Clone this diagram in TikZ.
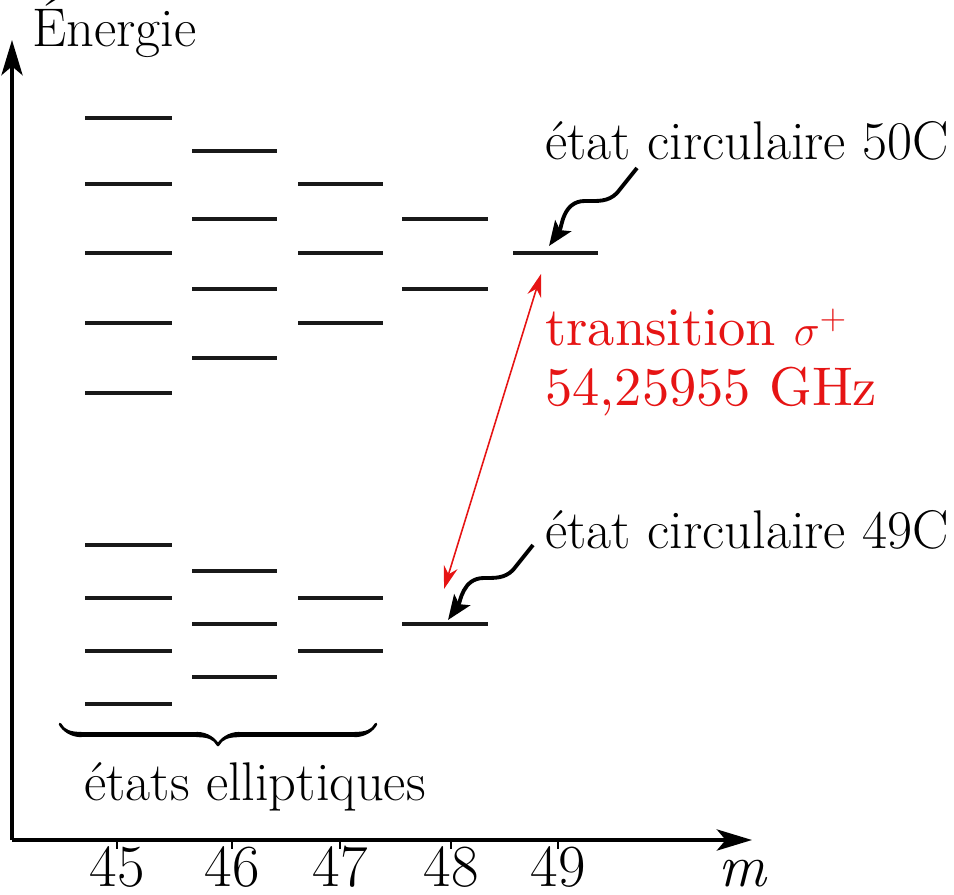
\documentclass[tikz,border=0pt]{standalone}
\usepackage{fontspec}
\newfontfamily\cmfont{lmroman10-regular}[Extension=.otf]
\usepackage{tikz}
\usetikzlibrary{arrows.meta,decorations.pathreplacing,calligraphy}
\definecolor{transred}{RGB}{230,20,20}
\tikzset{every picture/.append style={x=0.02cm, y=-0.02cm}}
\tikzset{
    axis/.style={line width=2.3pt, -{Stealth[length=20pt, width=12pt, inset=5pt]}},
    level/.style={line width=2pt, black!90},
    tick/.style={line width=0.6pt},
    lbl/.style={font=\fontsize{31}{36}\selectfont, inner sep=0pt},
    ticklbl/.style={font=\fontsize{34}{40}\selectfont, inner sep=0pt, anchor=base},
    pointer/.style={line width=2.2pt, -{Stealth[length=14pt, width=11pt, inset=3pt]}},
    transarrow/.style={transred, line width=0.9pt,
    	{Stealth[length=13pt, width=8pt]}-{Stealth[length=13pt, width=8pt]}}
}
\begin{document}
\begin{tikzpicture}
	\useasboundingbox (0,0) rectangle (954,895);
	\coordinate (o) at (12,840);
	\coordinate (ytip) at (12,40);
	\coordinate (xtip) at (752,840);
	\draw[axis] (o) -- (ytip);
	\draw[axis] (o) -- (xtip);
	\node[lbl, anchor=base west] (energie) at (32,47) {Énergie};
	\node[ticklbl] (maxis) at (742,886) {\itshape m};
	\foreach \m/\x in {45/117, 46/232, 47/340, 48/451, 49/558} {
		\draw[tick] (\x,840) -- (\x,849);
		\node[ticklbl] (m\m) at (\x,886) {\m};
	}
	\foreach \y in {118,184,253,323,393,545,598,651,704}
		\draw[level] (85,\y) -- (172,\y);
	\foreach \y in {151,219,289,358,571,624,677}
		\draw[level] (192,\y) -- (277,\y);
	\foreach \y in {184,253,323,598,651}
		\draw[level] (298,\y) -- (383,\y);
	\foreach \y in {219,289}
		\draw[level] (402,\y) -- (488,\y);
	\draw[level] (402,624) -- (488,624);
	\draw[level] (513,253) -- (598,253);
	\node[lbl, anchor=base west] (c50) at (545,160) {état circulaire 50C};
	\node[lbl, anchor=base west] (c49) at (545,548) {état circulaire 49C};
	\coordinate (p50) at (637,168);
	\coordinate (t50) at (549,246);
	\coordinate (p49) at (533,545);
	\coordinate (t49) at (448,620);
	\draw[pointer] (p50) -- (617,193) to[out=225, in=0] (585,201)
		to[out=180, in=55] (t50);
	\draw[pointer] (p49) -- (513,570) to[out=225, in=0] (484,578)
		to[out=180, in=55] (t49);
	\coordinate (top) at (541,274);
	\coordinate (bot) at (444,589);
	\draw[transarrow] (bot) -- (top);
	\node[transred, anchor=base west, inner sep=0pt, align=left,
		font=\cmfont\fontsize{31}{34}\selectfont] (trans) at (545,405)
		{transition $\sigma^+$\\54,25955 GHz};
	\draw[decorate, decoration={calligraphic brace, mirror, amplitude=12pt},
		line width=3pt] (60,724) -- (376,724);
	\node[lbl, anchor=base west] (ellip) at (84,800) {états elliptiques};
\end{tikzpicture}
\end{document}
